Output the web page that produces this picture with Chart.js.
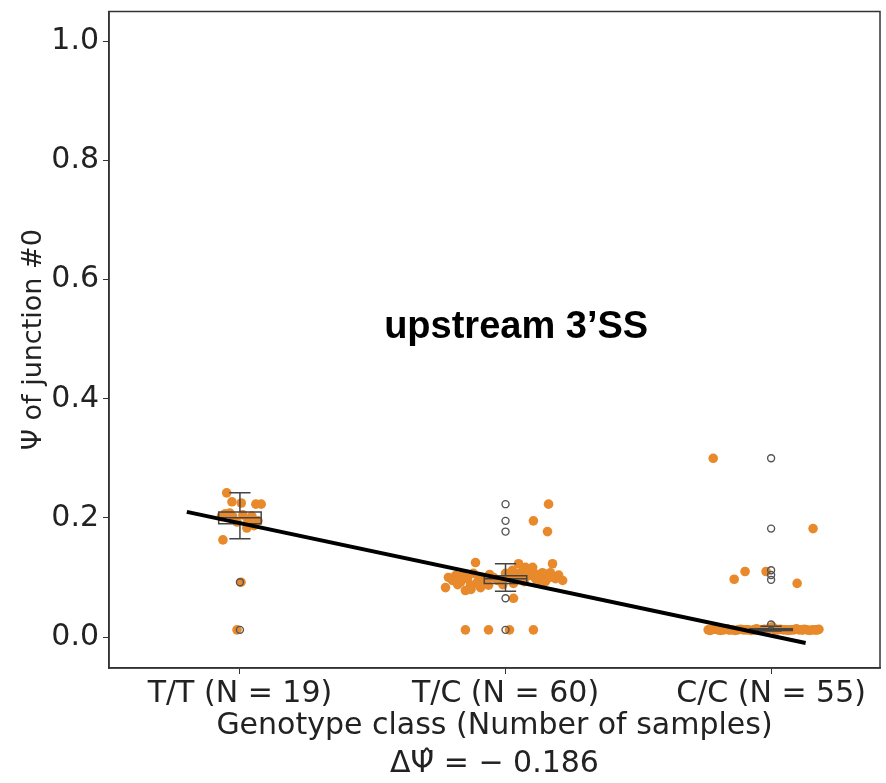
<!DOCTYPE html>
<html>
<head>
<meta charset="utf-8">
<script src="https://cdn.jsdelivr.net/npm/chart.js@4.4.1/dist/chart.umd.min.js"></script>
<style>
  html, body { margin: 0; padding: 0; background: #fff; }
  #wrap { width: 886px; height: 783px; }
</style>
</head>
<body>
<div id="wrap"><canvas id="psiChart"></canvas></div>
<script>
// ---- datos ----
const genotypes = ['T/T (N = 19)', 'T/C (N = 60)', 'C/C (N = 55)'];
const yTicks = [0.0, 0.2, 0.4, 0.6, 0.8, 1.0];

// jitter horizontal (unidades de categoria) y valores de Psi por muestra
const ttJitter = [-0.05, -0.03, 0.005, 0.06, 0.08, -0.055, -0.027, 0.011, 0.045, 0.068,
    -0.011, 0.03, -0.07, 0.053, 0.026, -0.064, 0.004, -0.011, -0.038];
const ttPsi = [0.242, 0.227, 0.225, 0.223, 0.223, 0.207, 0.202, 0.205, 0.203, 0.195,
    0.193, 0.195, 0.202, 0.187, 0.183, 0.163, 0.092, 0.012, 0.208];

const tcJitter = [-0.113, -0.215, -0.226, -0.188, -0.169, -0.143, -0.151, -0.132, -0.121, -0.102,
    -0.087, -0.094, -0.068, -0.064, -0.045, 0.000, 0.026, 0.038, 0.030, 0.056,
    0.064, 0.075, 0.087, 0.105, 0.113, 0.121, 0.139, 0.158, 0.177, 0.169,
    0.188, 0.215, 0.049, 0.102, 0.139, 0.162, 0.105, 0.158, -0.151, -0.064,
    0.015, 0.105, -0.20, -0.18, -0.16, -0.13, -0.11, -0.08, -0.06, -0.03,
    -0.01, 0.01, 0.03, 0.05, 0.07, 0.09, 0.12, 0.15, 0.17, 0.20];
const tcPsi = [0.125, 0.100, 0.083, 0.103, 0.092, 0.098, 0.078, 0.087, 0.107, 0.095,
    0.100, 0.083, 0.098, 0.087, 0.100, 0.107, 0.112, 0.098, 0.065, 0.108,
    0.098, 0.117, 0.103, 0.108, 0.098, 0.092, 0.100, 0.098, 0.123, 0.108,
    0.098, 0.095, 0.123, 0.117, 0.108, 0.223, 0.195, 0.177, 0.012, 0.012,
    0.012, 0.012, 0.095, 0.088, 0.105, 0.080, 0.090, 0.092, 0.105, 0.095,
    0.088, 0.100, 0.090, 0.105, 0.093, 0.112, 0.104, 0.093, 0.101, 0.104];

const ccJitter = [-0.218, 0.158, -0.139, -0.098, -0.019, 0.098,
    -0.237, -0.225, -0.21, -0.20, -0.19, -0.178, -0.165, -0.155, -0.145, -0.135,
    -0.125, -0.115, -0.105, -0.095, -0.085, -0.075, -0.065, -0.055, -0.045, -0.035,
    -0.025, -0.015, -0.005, 0.005, 0.015, 0.025, 0.035, 0.045, 0.055, 0.065,
    0.075, 0.085, 0.095, 0.105, 0.115, 0.125, 0.135, 0.145, 0.155, 0.165,
    0.175, 0.18, -0.23, -0.16, -0.06, 0.02, 0.07, 0.12, 0.17];
const ccPsi = [0.300, 0.182, 0.097, 0.110, 0.110, 0.090,
    0.012, 0.012, 0.013, 0.012, 0.011, 0.012, 0.014, 0.012, 0.012, 0.011,
    0.012, 0.013, 0.012, 0.012, 0.012, 0.011, 0.012, 0.014, 0.012, 0.012,
    0.013, 0.012, 0.015, 0.017, 0.012, 0.012, 0.013, 0.012, 0.012, 0.011,
    0.012, 0.012, 0.014, 0.012, 0.012, 0.013, 0.012, 0.011, 0.012, 0.012,
    0.012, 0.013, 0.011, 0.012, 0.012, 0.013, 0.012, 0.012, 0.012];

// estadisticas de las cajas
const whiskLow = [0.165, 0.077, 0.010];
const boxQ1 = [0.190, 0.090, 0.011];
const boxMedian = [0.200, 0.098, 0.012];
const boxQ3 = [0.210, 0.103, 0.014];
const whiskHigh = [0.242, 0.123, 0.018];

const ttOutliers = [0.092, 0.012];
const tcOutliers = [0.223, 0.195, 0.177, 0.065, 0.012];
const ccOutliers = [0.300, 0.182, 0.112, 0.104, 0.096, 0.021];

// recta de regresion
const regX = [-0.2, 2.13];
const regY = [0.210, -0.010];

const titleText = 'upstream 3\u2019SS';
const xTitle = ['Genotype class (Number of samples)', '\u0394\u03A8\u0302 = \u2212 0.186'];
const yTitle = '\u03A8 of junction #0';

const ORANGE = '#E8892B';
const FONT = 'DejaVu Sans';

function toPoints(center, jitter, values) {
    return values.map((v, i) => ({ x: center + jitter[i], y: v }));
}

const outlierPts = []
    .concat(ttOutliers.map(v => ({ x: 0, y: v })))
    .concat(tcOutliers.map(v => ({ x: 1, y: v })))
    .concat(ccOutliers.map(v => ({ x: 2, y: v })));

// cajas dibujadas con las escalas del grafico
const boxPlugin = {
    id: 'boxes',
    afterDatasetDraw(chart, args) {
        if (args.index !== 2) return;
        const { ctx } = chart;
        const xs = chart.scales.x, ys = chart.scales.y;
        ctx.save();
        ctx.strokeStyle = '#444';
        ctx.lineWidth = 1.5;
        for (let i = 0; i < genotypes.length; i++) {
            const l = xs.getPixelForValue(i - 0.08), r = xs.getPixelForValue(i + 0.08);
            const cl = xs.getPixelForValue(i - 0.04), cr = xs.getPixelForValue(i + 0.04);
            const c = xs.getPixelForValue(i);
            const q1 = ys.getPixelForValue(boxQ1[i]), q3 = ys.getPixelForValue(boxQ3[i]);
            const md = ys.getPixelForValue(boxMedian[i]);
            const lo = ys.getPixelForValue(whiskLow[i]), hi = ys.getPixelForValue(whiskHigh[i]);
            ctx.beginPath();
            ctx.rect(l, q3, r - l, q1 - q3);
            ctx.moveTo(l, md); ctx.lineTo(r, md);
            ctx.moveTo(c, q3); ctx.lineTo(c, hi);
            ctx.moveTo(c, q1); ctx.lineTo(c, lo);
            ctx.moveTo(cl, hi); ctx.lineTo(cr, hi);
            ctx.moveTo(cl, lo); ctx.lineTo(cr, lo);
            ctx.stroke();
        }
        ctx.restore();
    },
    afterDraw(chart) {
        const { ctx, chartArea: a } = chart;
        ctx.save();
        // marco
        ctx.strokeStyle = '#333';
        ctx.lineWidth = 1.5;
        ctx.strokeRect(a.left, a.top, a.right - a.left, a.bottom - a.top);
        // texto dentro del area
        ctx.fillStyle = '#000';
        ctx.font = 'bold 38px "Liberation Sans"';
        ctx.textAlign = 'center';
        ctx.textBaseline = 'middle';
        ctx.fillText(titleText, chart.scales.x.getPixelForValue(1.04), chart.scales.y.getPixelForValue(0.52));
        ctx.restore();
    }
};

const ctx = document.getElementById('psiChart');
new Chart(ctx, {
    type: 'scatter',
    data: {
        datasets: [
            {
                type: 'line',
                data: regX.map((x, i) => ({ x: x, y: regY[i] })),
                borderColor: '#000',
                borderWidth: 4,
                pointRadius: 0,
                fill: false
            },
            {
                data: outlierPts,
                pointRadius: 3.5,
                pointBorderWidth: 1.4,
                pointBorderColor: '#555',
                pointBackgroundColor: 'rgba(255,255,255,0)'
            },
            { data: toPoints(0, ttJitter, ttPsi), pointRadius: 4.8, pointBorderWidth: 0, pointBackgroundColor: ORANGE },
            { data: toPoints(1, tcJitter, tcPsi), pointRadius: 4.8, pointBorderWidth: 0, pointBackgroundColor: ORANGE },
            { data: toPoints(2, ccJitter, ccPsi), pointRadius: 4.8, pointBorderWidth: 0, pointBackgroundColor: ORANGE }
        ]
    },
    options: {
        responsive: true,
        maintainAspectRatio: false,
        animation: false,
        layout: { padding: { top: 8, right: 6, left: 0, bottom: 0 } },
        plugins: {
            legend: { display: false },
            tooltip: { enabled: false }
        },
        scales: {
            x: {
                type: 'linear',
                min: -0.493,
                max: 2.41,
                afterBuildTicks: s => { s.ticks = genotypes.map((g, i) => ({ value: i })); },
                afterFit: s => { s.height = 115; },
                ticks: {
                    callback: (v) => genotypes[v],
                    font: { family: FONT, size: 30 },
                    color: '#222',
                    padding: 2,
                    maxRotation: 0,
                    autoSkip: false
                },
                grid: { drawOnChartArea: false, drawTicks: true, tickLength: 6, color: '#333' },
                border: { color: '#333', width: 1.5 },
                title: {
                    display: true,
                    text: xTitle,
                    font: { family: FONT, size: 30, lineHeight: 1.27 },
                    color: '#222',
                    padding: { top: 0, bottom: 0 }
                }
            },
            y: {
                min: -0.052,
                max: 1.05,
                afterBuildTicks: s => { s.ticks = yTicks.map(v => ({ value: v })); },
                afterFit: s => { s.width = 109; },
                ticks: {
                    callback: (v) => v.toFixed(1),
                    font: { family: FONT, size: 30, lineHeight: 0.5 },
                    color: '#222',
                    padding: 4
                },
                grid: { drawOnChartArea: false, drawTicks: true, tickLength: 6, color: '#333' },
                border: { color: '#333', width: 1.5 },
                title: {
                    display: true,
                    text: yTitle,
                    font: { family: FONT, size: 27 },
                    color: '#222',
                    padding: { top: 18, bottom: 0 }
                }
            }
        }
    },
    plugins: [boxPlugin]
});
</script>
</body>
</html>
